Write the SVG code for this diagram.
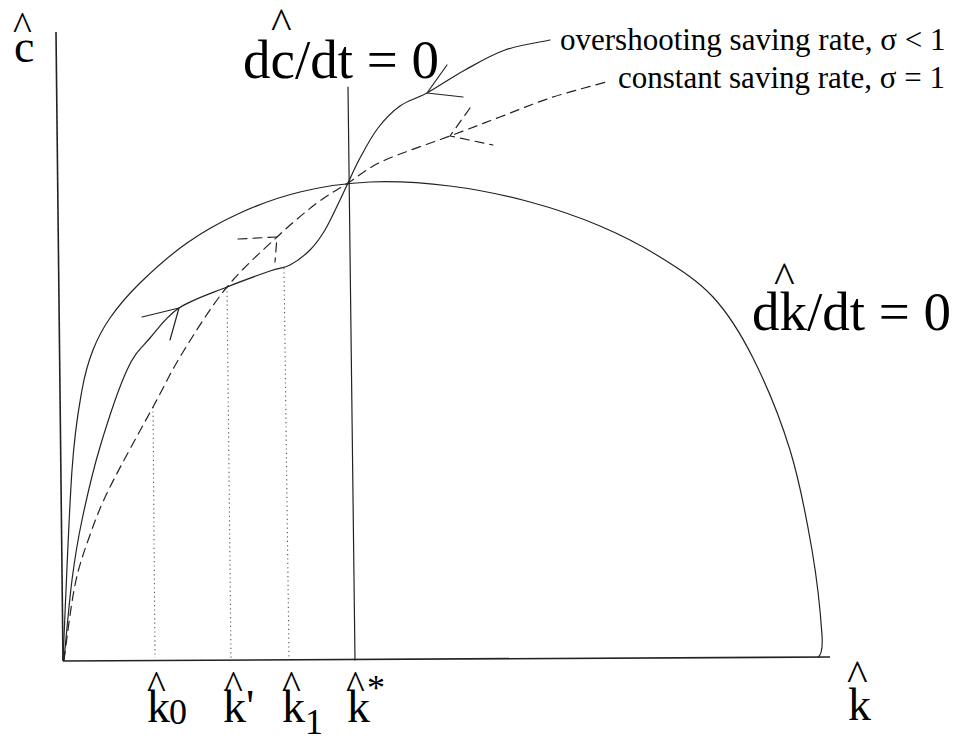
<svg xmlns="http://www.w3.org/2000/svg" width="961" height="743" viewBox="0 0 961 743">
<style>
.ln{fill:none;stroke:#222;stroke-width:1.2;stroke-linecap:round;stroke-linejoin:round}
.ax{fill:none;stroke:#222;stroke-width:1.6}
.dash{stroke-dasharray:9,6}
.dot{fill:none;stroke:#555;stroke-width:1.1;stroke-dasharray:1.2,3.2}
text{font-family:"Liberation Serif","Times New Roman",serif;fill:#000}
.big{font-size:46px}
.eq{font-size:55px}
.lab{font-size:31px}
.hat{font-size:40px}
.hatl{font-size:44px}
.sub{font-size:36px}
</style>
<rect width="961" height="743" fill="#fff"/>
<g id="axes">
<line class="ax" x1="56" y1="32" x2="63" y2="661"/>
<line class="ax" x1="63" y1="661" x2="830" y2="657"/>
<line class="ln" x1="348" y1="87" x2="355" y2="660"/>
</g>
<g id="guides">
<line class="dot" x1="153" y1="407" x2="155" y2="658"/>
<line class="dot" x1="227" y1="287" x2="231" y2="658"/>
<line class="dot" x1="284" y1="268" x2="289" y2="658"/>
</g>
<g id="dk-curve">
<path class="ln" d="M63,660 C64.5,628.3 68.8,515 72,470 C75.2,425 78.5,410 82,390 C85.5,370 88.3,362 93,350 C97.7,338 102.2,329.2 110,318 C117.8,306.8 127.2,295.5 140,283 C152.8,270.5 170.3,254.7 187,243 C203.7,231.3 221.2,221.5 240,213 C258.8,204.5 278.3,197.2 300,192 C321.7,186.8 345,183 370,182 C395,181 423.3,182.7 450,186 C476.7,189.3 505,195.3 530,202 C555,208.7 578.3,216.8 600,226 C621.7,235.2 641.2,245.2 660,257 C678.8,268.8 697.5,280.2 713,297 C728.5,313.8 740.2,332.5 753,358 C765.8,383.5 780.2,418 790,450 C799.8,482 806.7,519.2 812,550 C817.3,580.8 820.8,617.3 822,635 C822.8,648 822,655 818,657"/>
</g>
<g id="overshooting-path">
<path class="ln" d="M64,660 C65.3,646.7 69,603.3 72,580 C75,556.7 77.3,542.2 82,520 C86.7,497.8 92.5,472 100,447 C107.5,422 118.7,388.2 127,370 C135.3,351.8 141.3,348.3 150,338 C158.7,327.7 166.2,316.5 179,308 C191.8,299.5 211.8,293.2 227,287 C242.2,280.8 259.5,274.7 270,271 C280.5,267.3 283.3,268.5 290,265 C296.7,261.5 304.2,255.8 310,250 C315.8,244.2 320,238.3 325,230 C330,221.7 336.2,207.8 340,200 C343.8,192.2 344.7,190 348,183 C351.3,176 355,167.2 360,158 C365,148.8 371.3,136.7 378,128 C384.7,119.3 391.8,111.8 400,106 C408.2,100.2 416.2,99 427,93 C437.8,87 452,77.2 465,70 C478,62.8 490.8,55 505,50 C519.2,45 542.5,41.7 550,40"/>
<polyline class="ln" points="142,317 179,308 170,340"/>
<polyline class="ln" points="447,65 427,93 463,97"/>
</g>
<g id="constant-path">
<path class="ln dash" d="M64,660 C65.8,647.5 70.7,605.8 75,585 C79.3,564.2 84.2,551.3 90,535 C95.8,518.7 99.5,508.3 110,487 C120.5,465.7 140.8,429.5 153,407 C165.2,384.5 170.7,372 183,352 C195.3,332 211.3,306.2 227,287 C242.7,267.8 262,251 277,237 C292,223 305.2,212 317,203 C328.8,194 337,190 348,183 C359,176 366,168.8 383,161 C400,153.2 430.5,143.3 450,136 C469.5,128.7 483.3,123.3 500,117 C516.7,110.7 532.3,103.8 550,98 C567.7,92.2 596.7,84.7 606,82"/>
<polyline class="ln dash" points="238,239 277,237 275,262"/>
<polyline class="ln dash" points="470,108 450,136 493,145"/>
</g>
<g id="labels">
<text id="c-axis-label"><tspan class="hat" x="13" y="40">^</tspan><tspan class="big" x="14" y="62">c</tspan></text>
<text id="dc-label"><tspan class="hatl" x="271" y="38">^</tspan><tspan class="eq" x="243" y="78">dc/dt = 0</tspan></text>
<text id="dk-label"><tspan class="hatl" x="774" y="292">^</tspan><tspan class="eq" x="752" y="330">dk/dt = 0</tspan></text>
<text id="legend-over" class="lab" x="560" y="50">overshooting saving rate, σ &lt; 1</text>
<text id="legend-const" class="lab" x="618" y="88">constant saving rate, σ = 1</text>
<text id="k0-label"><tspan class="hat" x="147" y="699">^</tspan><tspan class="big" x="147" y="722">k</tspan><tspan class="sub" x="169" y="724">0</tspan></text>
<text id="kprime-label"><tspan class="hat" x="224" y="699">^</tspan><tspan class="big" x="223" y="722">k'</tspan></text>
<text id="k1-label"><tspan class="hat" x="282" y="699">^</tspan><tspan class="big" x="282" y="722">k</tspan><tspan class="sub" x="305" y="734">1</tspan></text>
<text id="kstar-label"><tspan class="hat" x="346" y="699">^</tspan><tspan class="big" x="347" y="722">k</tspan><tspan class="sub" x="367" y="700">*</tspan></text>
<text id="k-axis-label"><tspan class="hatl" x="847" y="690">^</tspan><tspan class="big" x="848" y="720">k</tspan></text>
</g>
</svg>
